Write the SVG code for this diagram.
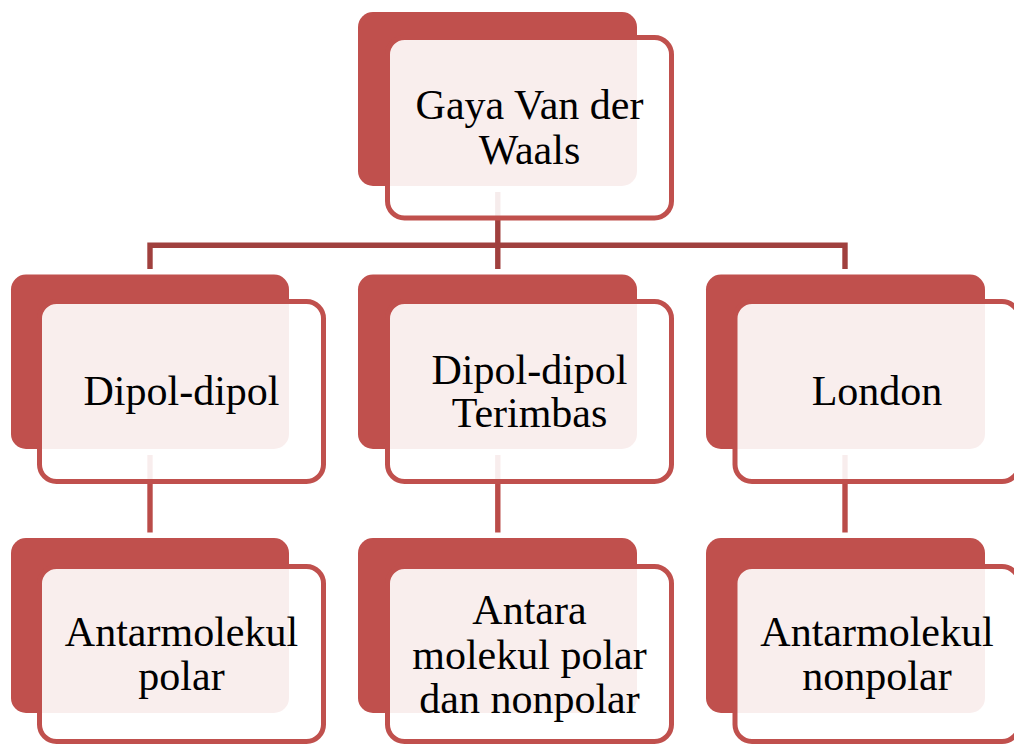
<svg xmlns="http://www.w3.org/2000/svg" width="1014" height="745" viewBox="0 0 1014 745">
<style>
.back{fill:#C0504D;}
.front{fill:#FFFFFF;fill-opacity:0.9;stroke:#C0504D;stroke-width:5;}
.lbl{font-family:"Liberation Serif","Times New Roman",serif;font-size:42px;fill:#000;text-anchor:middle;}
.c1{fill:none;stroke:#A0403E;stroke-width:5.4;stroke-linejoin:miter;}
.c2{fill:none;stroke:#BA4C49;stroke-width:5.4;}
</style>
<rect width="1014" height="745" fill="#FFFFFF"/>
<g id="connectors">
<path class="c1" d="M497.8,192 V269"/>
<path class="c1" d="M150,269 V245.3 H845 V269"/>
<path class="c2" d="M150,455 V532.5"/>
<path class="c2" d="M497.8,455 V532.5"/>
<path class="c2" d="M845,455 V532.5"/>
</g>
<g id="root">
<rect class="back" x="358" y="12" width="279" height="174" rx="15"/>
<rect class="front" x="387.5" y="37.5" width="284" height="180.5" rx="17"/>
<text class="lbl" x="529.5" y="119">Gaya Van der</text>
<text class="lbl" x="529.5" y="163.5">Waals</text>
</g>
<g id="dipol">
<rect class="back" x="11" y="274.5" width="278" height="174.5" rx="15"/>
<rect class="front" x="39.5" y="301.5" width="284" height="180" rx="17"/>
<text class="lbl" x="181.5" y="405">Dipol-dipol</text>
</g>
<g id="terimbas">
<rect class="back" x="358" y="274.5" width="279" height="174.5" rx="15"/>
<rect class="front" x="387.5" y="301.5" width="284" height="180" rx="17"/>
<text class="lbl" x="529.5" y="383.5">Dipol-dipol</text>
<text class="lbl" x="529.5" y="427">Terimbas</text>
</g>
<g id="london">
<rect class="back" x="706" y="274.5" width="279" height="174.5" rx="15"/>
<rect class="front" x="735" y="301.5" width="284" height="180" rx="17"/>
<text class="lbl" x="877" y="405">London</text>
</g>
<g id="polar">
<rect class="back" x="11" y="538" width="278" height="175" rx="15"/>
<rect class="front" x="39.5" y="566.5" width="284" height="175" rx="17"/>
<text class="lbl" x="181.5" y="646">Antarmolekul</text>
<text class="lbl" x="181.5" y="690">polar</text>
</g>
<g id="polar-nonpolar">
<rect class="back" x="358" y="538" width="279" height="175" rx="15"/>
<rect class="front" x="387.5" y="566.5" width="284" height="175" rx="17"/>
<text class="lbl" x="529.5" y="623.5">Antara</text>
<text class="lbl" x="529.5" y="668.5">molekul polar</text>
<text class="lbl" x="529.5" y="712.5">dan nonpolar</text>
</g>
<g id="nonpolar">
<rect class="back" x="706" y="538" width="279" height="175" rx="15"/>
<rect class="front" x="735" y="566.5" width="284" height="175" rx="17"/>
<text class="lbl" x="877" y="646">Antarmolekul</text>
<text class="lbl" x="877" y="690">nonpolar</text>
</g>
</svg>
